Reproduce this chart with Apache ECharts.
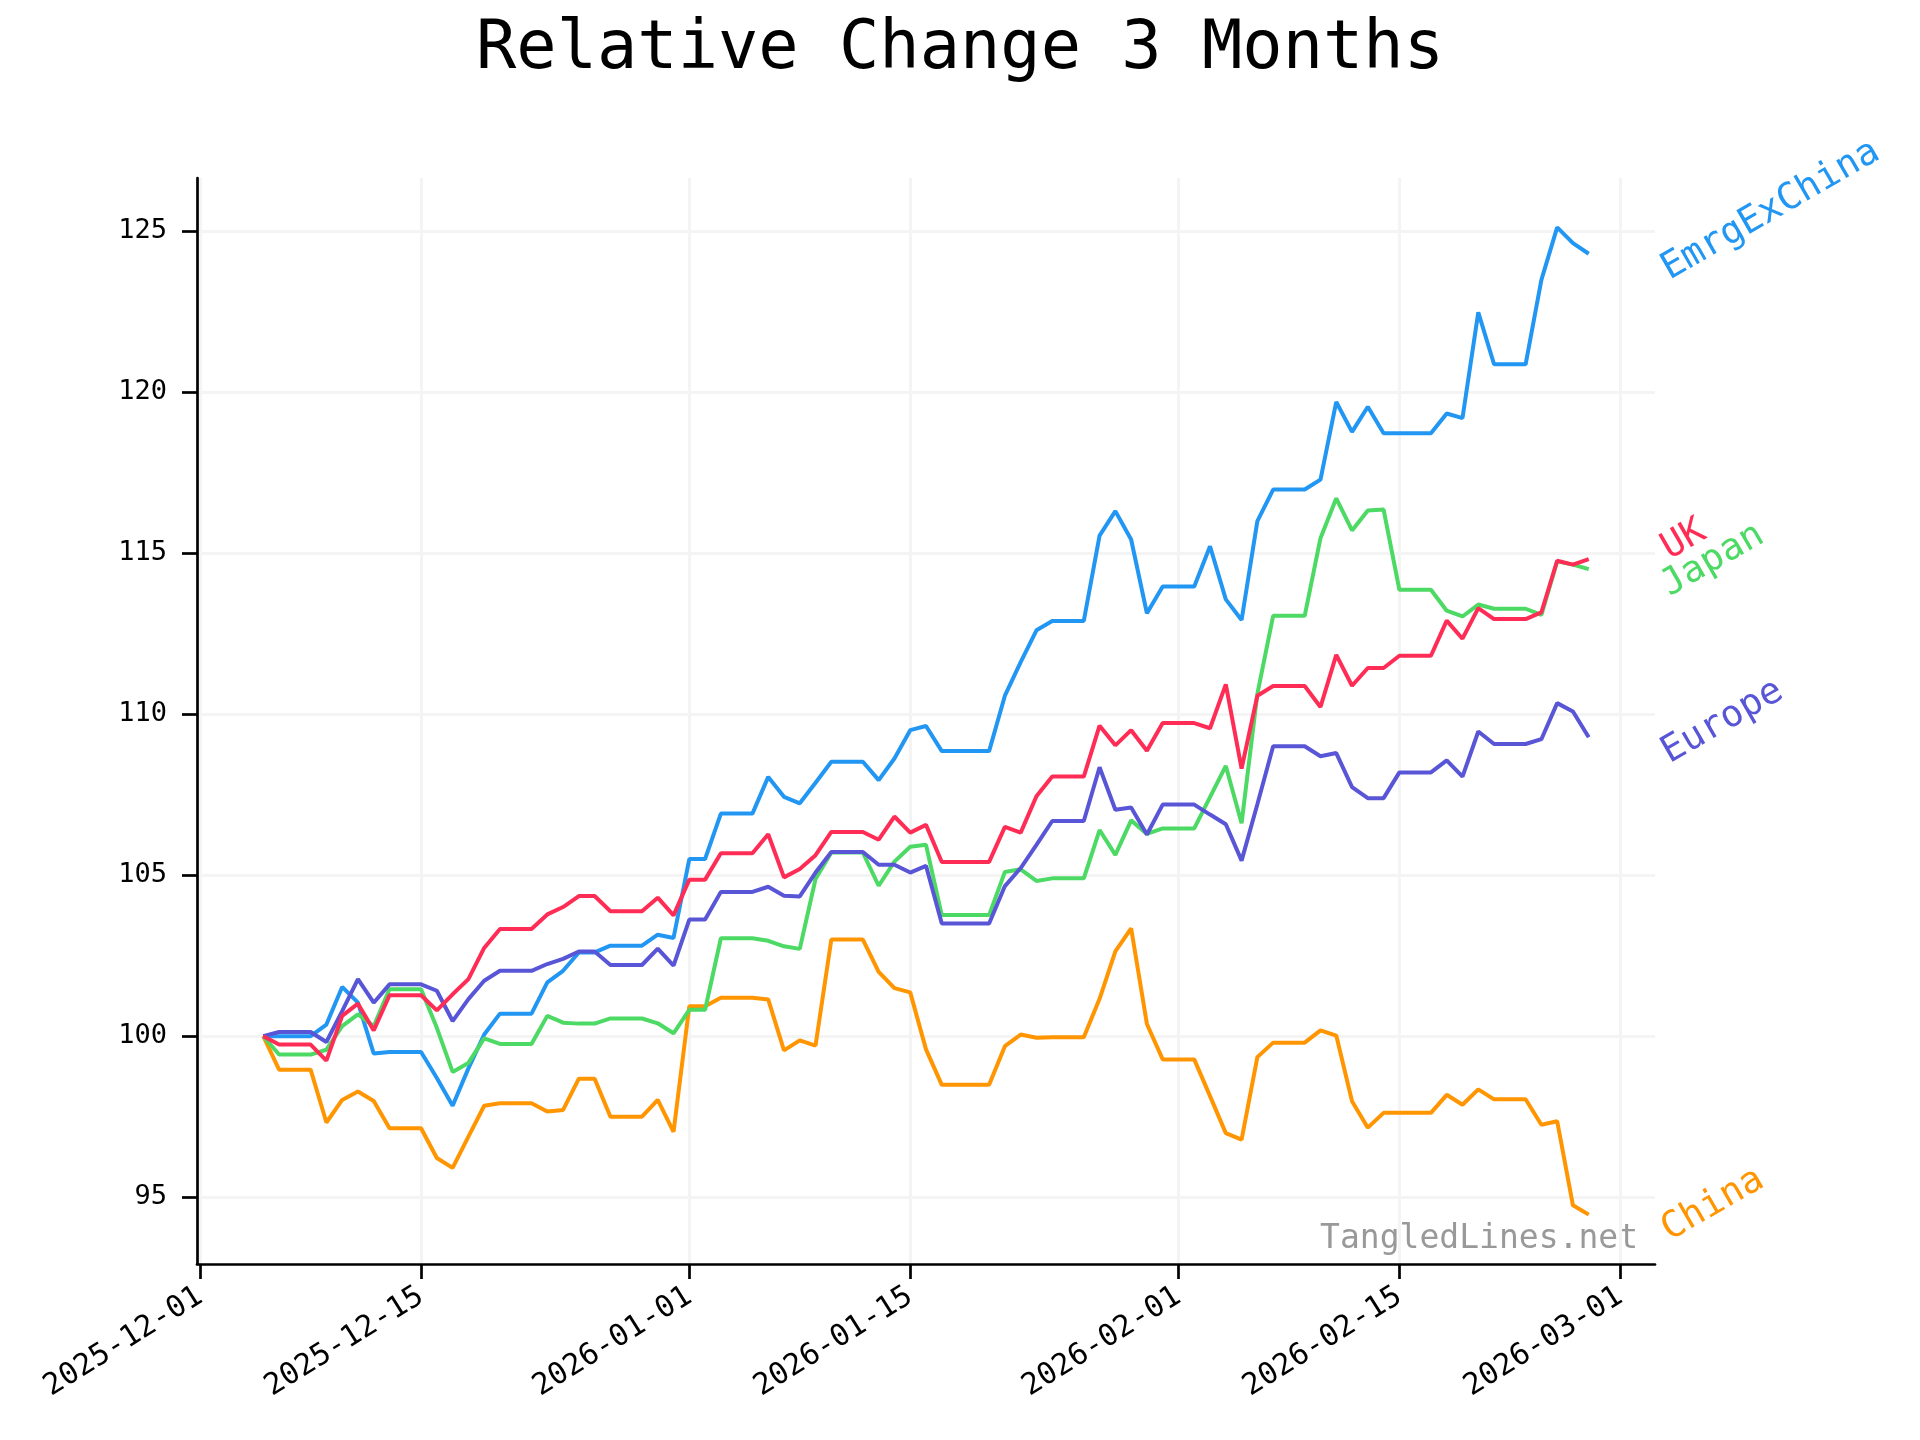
<!DOCTYPE html>
<html>
<head>
<meta charset="utf-8">
<script src="https://cdn.jsdelivr.net/npm/echarts@6/dist/echarts.min.js"></script>
<style>
html,body{margin:0;padding:0;background:#fff;}
#chart{width:1920px;height:1440px;}
</style>
</head>
<body>
<div id="chart"></div>
<script>
// ---- data ----
const startDate = '2025-12-05';
const nDays = 85;
const seriesNames = ['EmrgExChina', 'China', 'Japan', 'Europe', 'UK'];
const seriesColors = ['#2196F3', '#FF9500', '#4CD964', '#5856D6', '#FF2D55'];
const xTickLabels = ['2025-12-01', '2025-12-15', '2026-01-01', '2026-01-15', '2026-02-01', '2026-02-15', '2026-03-01'];
const yTickValues = [95, 100, 105, 110, 115, 120, 125];

const emrgExChina = [100.0,100.0,100.0,100.0,100.36,101.53,101.04,99.46,99.51,99.51,99.51,98.7,97.84,99.0,100.05,100.7,100.7,100.7,101.67,102.03,102.6,102.6,102.81,102.81,102.81,103.15,103.05,105.5,105.5,106.91,106.91,106.91,108.05,107.43,107.23,107.87,108.52,108.52,108.52,107.95,108.62,109.5,109.63,108.85,108.85,108.85,108.85,110.57,111.61,112.6,112.89,112.89,112.89,115.54,116.3,115.42,113.13,113.96,113.96,113.96,115.21,113.56,112.92,115.99,116.97,116.97,116.97,117.28,119.69,118.76,119.54,118.72,118.72,118.72,118.72,119.33,119.19,122.47,120.86,120.86,120.86,123.48,125.11,124.62,124.29];
const uk = [100.0,99.74,99.74,99.74,99.24,100.63,101.01,100.18,101.27,101.27,101.27,100.8,101.3,101.77,102.74,103.33,103.33,103.33,103.78,104.01,104.35,104.35,103.88,103.88,103.88,104.3,103.75,104.86,104.86,105.68,105.68,105.68,106.27,104.93,105.19,105.62,106.34,106.34,106.34,106.1,106.82,106.32,106.56,105.41,105.41,105.41,105.41,106.5,106.32,107.45,108.06,108.06,108.06,109.64,109.03,109.5,108.86,109.72,109.72,109.72,109.56,110.92,108.31,110.57,110.87,110.87,110.87,110.22,111.84,110.88,111.43,111.43,111.81,111.81,111.81,112.9,112.34,113.29,112.95,112.95,112.95,113.16,114.76,114.64,114.81];
const japan = [100.0,99.43,99.43,99.43,99.58,100.31,100.68,100.31,101.46,101.46,101.46,100.26,98.89,99.17,99.93,99.76,99.76,99.76,100.63,100.42,100.39,100.39,100.55,100.55,100.55,100.4,100.09,100.82,100.82,103.04,103.04,103.04,102.96,102.79,102.71,104.88,105.7,105.7,105.7,104.67,105.42,105.88,105.94,103.76,103.76,103.76,103.76,105.1,105.18,104.82,104.9,104.9,104.9,106.4,105.63,106.7,106.28,106.45,106.45,106.45,107.42,108.39,106.61,110.63,113.05,113.05,113.05,115.46,116.7,115.7,116.32,116.35,113.86,113.86,113.86,113.21,113.03,113.4,113.27,113.27,113.27,113.08,114.74,114.64,114.5];
const europe = [100.0,100.13,100.13,100.13,99.82,100.78,101.77,101.04,101.61,101.61,101.61,101.41,100.47,101.15,101.72,102.03,102.03,102.03,102.24,102.4,102.63,102.63,102.21,102.21,102.21,102.72,102.19,103.62,103.62,104.48,104.48,104.48,104.64,104.36,104.34,105.08,105.72,105.72,105.72,105.32,105.32,105.08,105.29,103.5,103.5,103.5,103.5,104.66,105.22,105.94,106.68,106.68,106.68,108.35,107.03,107.1,106.26,107.19,107.19,107.19,106.88,106.58,105.45,107.2,109.0,109.0,109.0,108.69,108.79,107.73,107.39,107.39,108.19,108.19,108.19,108.56,108.06,109.46,109.07,109.07,109.07,109.22,110.34,110.08,109.28];
const china = [100.0,98.96,98.96,98.96,97.32,98.02,98.28,97.99,97.14,97.14,97.14,96.22,95.91,96.88,97.84,97.92,97.92,97.92,97.66,97.71,98.68,98.68,97.5,97.5,97.5,98.02,97.03,100.93,100.93,101.19,101.19,101.19,101.14,99.56,99.87,99.71,103.0,103.0,103.0,102.0,101.49,101.36,99.59,98.49,98.49,98.49,98.49,99.69,100.05,99.95,99.97,99.97,99.97,101.16,102.63,103.35,100.38,99.28,99.28,99.28,98.14,96.99,96.79,99.35,99.8,99.8,99.8,100.18,100.02,97.98,97.16,97.62,97.62,97.62,97.62,98.18,97.87,98.35,98.04,98.04,98.04,97.25,97.36,94.75,94.46];

const seriesValues = [emrgExChina, china, japan, europe, uk];
// screen nudges of the end labels [dx, dy] in px (UK lifted to clear Japan)
const labelNudge = [[76, 18], [76, 18], [76, 19], [76, 18], [76, -8]];
const labelAngle = 30;

// ---- build ----
const DAY = 86400000;
const t0 = Date.parse(startDate + 'T00:00:00Z');
const dates = [];
for (let i = 0; i < nDays; i++) dates.push(t0 + i * DAY);
const xTicks = xTickLabels.map(s => Date.parse(s + 'T00:00:00Z'));
const span = dates[dates.length - 1] - dates[0];
const xMin = dates[0] - 0.05 * span;
const xMax = dates[dates.length - 1] + 0.05 * span;
let lo = Infinity, hi = -Infinity;
seriesValues.forEach(a => a.forEach(v => { lo = Math.min(lo, v); hi = Math.max(hi, v); }));
const yMin = lo - 0.05 * (hi - lo);
const yMax = hi + 0.05 * (hi - lo);

// label offset is applied in the rotated frame: convert screen nudge to local
const th = labelAngle * Math.PI / 180;
const toLocal = ([dx, dy]) => [dx * Math.cos(th) - dy * Math.sin(th), dx * Math.sin(th) + dy * Math.cos(th)];

const FONT = '"DejaVu Sans Mono", monospace';
const fmtDate = v => {
  const d = new Date(v);
  const p = n => String(n).padStart(2, '0');
  return d.getUTCFullYear() + '-' + p(d.getUTCMonth() + 1) + '-' + p(d.getUTCDate());
};

const chart = echarts.init(document.getElementById('chart'), null, {renderer: 'canvas'});
chart.setOption({
  animation: false,
  backgroundColor: '#ffffff',
  title: {
    text: 'Relative Change 3 Months',
    left: 'center',
    top: 12,
    textStyle: {fontFamily: FONT, fontSize: 67, fontWeight: 'normal', color: '#000'}
  },
  grid: {left: 197, right: 265, top: 178, bottom: 176, containLabel: false},
  xAxis: {
    type: 'value',
    min: xMin,
    max: xMax,
    axisLine: {show: true, onZero: false, lineStyle: {color: '#000', width: 2.7}},
    axisTick: {show: true, inside: false, length: 15, customValues: xTicks, lineStyle: {color: '#000', width: 2.7}},
    axisLabel: {
      customValues: xTicks,
      formatter: v => fmtDate(v),
      rotate: 32,
      margin: 30,
      fontFamily: FONT, fontSize: 30, color: '#000'
    },
    splitLine: {show: true, lineStyle: {color: '#f4f4f4', width: 3}}
  },
  yAxis: {
    type: 'value',
    min: yMin,
    max: yMax,
    axisLine: {show: true, onZero: false, lineStyle: {color: '#000', width: 2.7}},
    axisTick: {show: true, inside: false, length: 15, customValues: yTickValues, lineStyle: {color: '#000', width: 2.7}},
    axisLabel: {customValues: yTickValues, margin: 30, fontFamily: FONT, fontSize: 27, color: '#000'},
    splitLine: {show: true, lineStyle: {color: '#f4f4f4', width: 3}}
  },
  graphic: [{
    type: 'text',
    right: 282,
    top: 1223,
    style: {text: 'TangledLines.net', fontFamily: FONT, fontSize: 33, fill: '#999999'}
  }],
  series: seriesNames.map((name, k) => ({
    name: name,
    type: 'line',
    showSymbol: false,
    symbol: 'none',
    data: dates.map((d, i) => [d, seriesValues[k][i]]),
    lineStyle: {color: seriesColors[k], width: 4},
    itemStyle: {color: seriesColors[k]},
    endLabel: {
      show: true,
      formatter: name,
      distance: 0,
      offset: toLocal(labelNudge[k]),
      rotate: labelAngle,
      fontFamily: FONT,
      fontSize: 37,
      color: seriesColors[k]
    },
    z: 2 + k
  }))
});
</script>
</body>
</html>
